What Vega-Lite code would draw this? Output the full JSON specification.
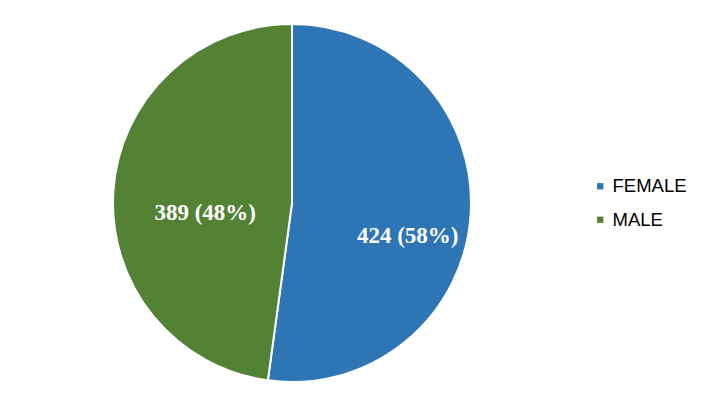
{
  "$schema": "https://vega.github.io/schema/vega-lite/v6.json",
  "width": 703,
  "height": 407,
  "padding": 0,
  "autosize": {"type": "none"},
  "background": "white",
  "view": {"stroke": null},
  "data": {"values": [
    {"gender": "FEMALE", "count": 424, "label": "424 (58%)", "order": 1},
    {"gender": "MALE", "count": 389, "label": "389 (48%)", "order": 2}
  ]},
  "encoding": {
    "theta": {"field": "count", "type": "quantitative", "stack": true},
    "order": {"field": "order", "type": "quantitative"},
    "x": {"value": 292},
    "y": {"value": 203}
  },
  "layer": [
    {
      "mark": {"type": "arc", "outerRadius": 179, "stroke": "white", "strokeWidth": 2},
      "encoding": {
        "color": {
          "field": "gender", "type": "nominal",
          "scale": {"domain": ["FEMALE", "MALE"], "range": ["#2E75B6", "#548235"]},
          "legend": {
            "title": null, "orient": "none", "legendX": 591, "legendY": 177,
            "symbolType": "square", "symbolSize": 40, "symbolStrokeWidth": 0,
            "labelFont": "Liberation Sans", "labelFontSize": 18.5, "labelColor": "#000000",
            "rowPadding": 14.5, "labelOffset": 3
          }
        }
      }
    },
    {
      "mark": {"type": "text", "radius": 116, "dy": 25, "font": "Liberation Serif", "fontSize": 23, "fontWeight": "bold", "fill": "white", "baseline": "middle", "align": "center"},
      "encoding": {"text": {"condition": {"test": "datum.gender === 'FEMALE'", "field": "label"}, "value": ""}}
    },
    {
      "mark": {"type": "text", "radius": 87, "dy": 16, "font": "Liberation Serif", "fontSize": 23, "fontWeight": "bold", "fill": "white", "baseline": "middle", "align": "center"},
      "encoding": {"text": {"condition": {"test": "datum.gender === 'MALE'", "field": "label"}, "value": ""}}
    }
  ]
}
